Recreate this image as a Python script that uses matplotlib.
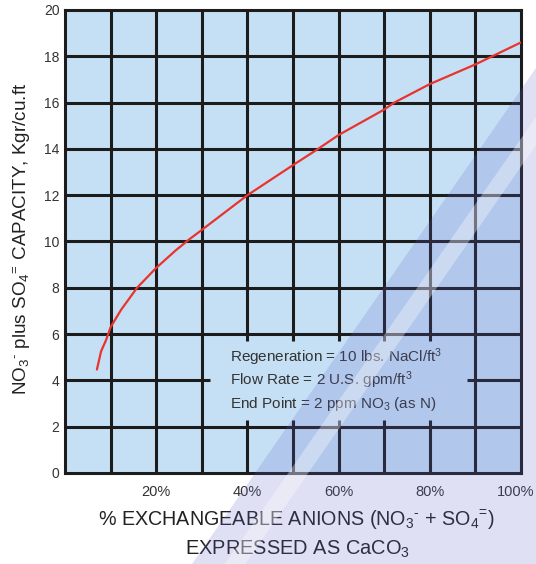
import matplotlib
matplotlib.use("Agg")
import matplotlib.pyplot as plt
import matplotlib.transforms as mtransforms
from matplotlib.patches import Polygon

plt.rcParams['font.family'] = ['Liberation Sans', 'DejaVu Sans']
plt.rcParams['mathtext.fontset'] = 'custom'
plt.rcParams['mathtext.rm'] = 'Liberation Sans'
plt.rcParams['mathtext.it'] = 'Liberation Sans:italic'
plt.rcParams['mathtext.bf'] = 'Liberation Sans:bold'

# ---- data ----
exch_pct = [7.0, 7.9, 9.0, 10.0, 12.3, 15.8, 20, 24.3, 27.1, 30, 40, 50, 55.5, 60, 70, 72.2, 80, 90, 100]
capacity = [4.47, 5.25, 5.74, 6.3, 7.05, 8.0, 8.86, 9.62, 10.07, 10.5, 12.0, 13.3, 14.0, 14.6, 15.7, 16.0, 16.8, 17.65, 18.6]

x_grid = [0, 10, 20, 30, 40, 50, 60, 70, 80, 90, 100]
y_grid = [0, 2, 4, 6, 8, 10, 12, 14, 16, 18, 20]
x_tick_vals = [20, 40, 60, 80, 100]
x_tick_labels = ['20%', '40%', '60%', '80%', '100%']
y_tick_vals = [0, 2, 4, 6, 8, 10, 12, 14, 16, 18, 20]

notes = [r'Regeneration = 10 lbs. NaCl/ft$^3$',
         r'Flow Rate = 2 U.S. gpm/ft$^3$',
         r'End Point = 2 ppm NO$_3$ (as N)']

# box (note area) in data units
box_x0, box_x1, box_y0, box_y1 = 30, 90, 2, 6

W, H = 536, 564
fig = plt.figure(figsize=(W / 100, H / 100), dpi=100)
ax = fig.add_axes([65 / W, 1 - 473 / H, (521 - 65) / W, (473 - 10) / H])
bg = '#c5e0f4'
ax.set_facecolor(bg)
ax.set_xlim(0, 100)
ax.set_ylim(0, 20)

gcol = '#1c1c1c'
glw = 2.2
stub_y = 0.3
stub_x = 1.8
for xv in x_grid[1:-1]:
    if box_x0 < xv < box_x1:
        segs = [(0, box_y0 + stub_y), (box_y1 - stub_y, 20)]
    else:
        segs = [(0, 20)]
    for a, b in segs:
        ax.plot([xv, xv], [a, b], color=gcol, lw=glw, solid_capstyle='butt', zorder=2)
for yv in y_grid[1:-1]:
    if box_y0 < yv < box_y1:
        segs = [(0, box_x0 + stub_x), (box_x1 - stub_x, 100)]
    else:
        segs = [(0, 100)]
    for a, b in segs:
        ax.plot([a, b], [yv, yv], color=gcol, lw=glw, solid_capstyle='butt', zorder=2)

for s in ax.spines.values():
    s.set_color(gcol)
    s.set_linewidth(glw)
    s.set_zorder(3)

ax.plot(exch_pct, capacity, color='#e8332f', lw=1.6, zorder=4,
        solid_joinstyle='round', solid_capstyle='round')

for i, t in enumerate(notes):
    ax.text(36.2, 5.0 - i * 1.0, t, fontsize=11, color='#333333',
            ha='left', va='center', zorder=5)

ax.set_xticks(x_tick_vals)
ax.set_xticklabels(x_tick_labels)
ax.set_yticks(y_tick_vals)
ax.tick_params(axis='both', length=0, labelcolor='#333333')
ax.tick_params(axis='x', pad=9, labelsize=10.5)
ax.tick_params(axis='y', pad=4, labelsize=10)
lab = ax.get_xticklabels()[-1]
lab.set_transform(lab.get_transform() + mtransforms.ScaledTranslation(-5 / 100, 0, fig.dpi_scale_trans))

fig.text(22 / W, 1 - 239 / H,
         r'NO$_3{}^{\text{-}}$ plus SO$_4{}^{\text{=}}$ CAPACITY, Kgr/cu.ft',
         rotation=90, ha='center', va='center', fontsize=13.6, color='#222222')

fig.text(296 / W, 1 - 520 / H,
         r'% EXCHANGEABLE ANIONS (NO$_3{}^{\text{-}}$ + SO$_4{}^{\text{=}}$)',
         ha='center', va='center', fontsize=14.2, color='#222222')
fig.text(297 / W, 1 - 549 / H, r'EXPRESSED AS CaCO$_3$',
         ha='center', va='center', fontsize=14.4, color='#222222')

# watermark tint
def fpts(pts):
    return [(x / W, 1 - y / H) for x, y in pts]

tint = Polygon(fpts([(192, 564), (536, 68), (536, 564)]), closed=True,
               transform=fig.transFigure, facecolor=(100 / 255, 100 / 255, 200 / 255),
               alpha=0.2, edgecolor='none', zorder=10)
fig.patches.append(tint)
stripe = Polygon(fpts([(225, 564), (245, 564), (536, 145), (536, 117)]), closed=True,
                 transform=fig.transFigure, facecolor='white',
                 alpha=0.35, edgecolor='none', zorder=11)
fig.patches.append(stripe)

fig.savefig('out.png', dpi=100)
